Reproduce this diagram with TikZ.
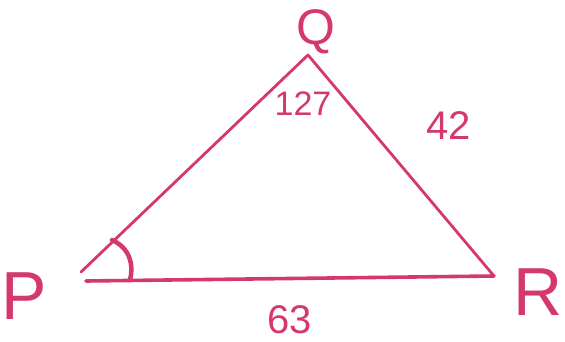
\documentclass[tikz,border=0pt]{standalone}
\usepackage{fontspec}
\setmainfont{Liberation Sans}
\definecolor{ink}{RGB}{212,56,108}
\begin{document}
\begin{tikzpicture}[x=1pt,y=-1pt,
  stroke/.style={draw=ink,line width=2.8pt,line cap=round,line join=round},
  lbl/.style={text=ink,inner sep=0pt,anchor=center}]
\useasboundingbox (0,0) rectangle (565,342);
\coordinate (P) at (81,272);
\coordinate (Pb) at (86,281);
\coordinate (Q) at (308,55);
\coordinate (R) at (494,276);
\draw[stroke] (P) -- (Q) -- (R);
\draw[stroke,line width=3.6pt] (R) -- (Pb);
\draw[draw=ink,line width=4.5pt,line cap=round] (112,240) .. controls (130,248) and (134,265) .. (130,280);
\node[lbl,font=\fontsize{50}{50}\selectfont] (lq) at (316,32) {Q};
\node[lbl,font=\fontsize{34}{34}\selectfont] (l127) at (303,104) {127};
\node[lbl,font=\fontsize{40}{40}\selectfont] (l42) at (449,126) {42};
\node[lbl,font=\fontsize{68}{68}\selectfont] (lp) at (24,296) {P};
\node[lbl,font=\fontsize{68}{68}\selectfont] (lr) at (538,292) {R};
\node[lbl,font=\fontsize{40}{40}\selectfont] (l63) at (290,320) {63};
\end{tikzpicture}
\end{document}
